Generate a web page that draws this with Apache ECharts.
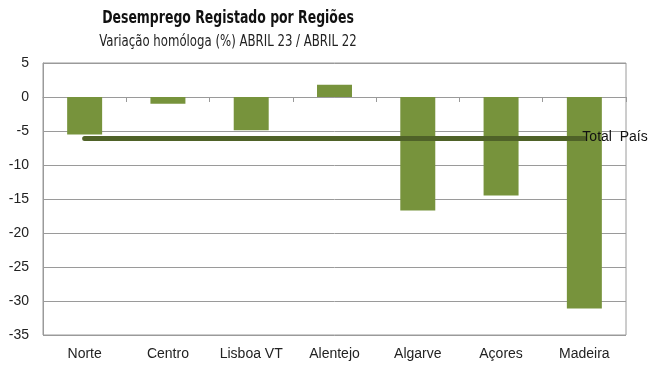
<!DOCTYPE html>
<html><head><meta charset="utf-8">
<script src="https://cdn.jsdelivr.net/npm/echarts@6/dist/echarts.min.js"></script>
<style>html,body{margin:0;padding:0;background:#fff}#c{width:661px;height:373px}</style>
</head><body><div id="c"></div>
<script>
const categories = ['Norte','Centro','Lisboa VT','Alentejo','Algarve','Açores','Madeira'];
const variacao = [-5.5, -1.0, -4.9, 1.8, -16.7, -14.5, -31.1];
const totalPais = [-6.1, -6.1, -6.1, -6.1, -6.1, -6.1, -6.1];
const totalLabel = 'Total  País';
const titleText = 'Desemprego Registado por Regiões';
const subtitleText = 'Variação homóloga (%) ABRIL 23 / ABRIL 22';
const yMin = -35, yMax = 5, yStep = 5;

const chart = echarts.init(document.getElementById('c'));
chart.setOption({
  animation: false,
  backgroundColor: '#fff',
  graphic: [
    {type: 'text', x: 228, y: 18, scaleX: 0.77, z: 10,
     style: {text: titleText, font: 'bold 18px "DejaVu Sans Condensed"', fill: '#111', textAlign: 'center', textVerticalAlign: 'middle'}},
    {type: 'text', x: 228, y: 42, scaleX: 0.87, z: 10,
     style: {text: subtitleText, font: '15px "DejaVu Sans Condensed"', fill: '#222', textAlign: 'center', textVerticalAlign: 'middle'}}
  ],
  grid: {left: 43, right: 35, top: 63, bottom: 38, show: true, borderColor: '#9a9a9a', borderWidth: 1, containLabel: false},
  xAxis: [
    {type: 'category', data: categories, position: 'bottom',
     axisLine: {show: false, onZero: false}, axisTick: {show: false},
     axisLabel: {fontFamily: 'Liberation Sans', fontSize: 14, color: '#222', margin: 12, interval: 0}},
    {type: 'category', data: categories, position: 'bottom',
     axisLine: {show: true, onZero: true, lineStyle: {color: '#9a9a9a', width: 1}},
     axisTick: {show: true, length: 5, lineStyle: {color: '#9a9a9a'}},
     axisLabel: {show: false}}
  ],
  yAxis: {type: 'value', min: yMin, max: yMax, interval: yStep,
    axisLine: {show: true, lineStyle: {color: '#9a9a9a'}}, axisTick: {show: false},
    axisLabel: {fontFamily: 'Liberation Sans', fontSize: 14, color: '#222', margin: 14},
    splitLine: {show: true, lineStyle: {color: '#9a9a9a', width: 1}}},
  series: [
    {type: 'bar', data: variacao, xAxisIndex: 0, barWidth: '42%',
     itemStyle: {color: '#77933c'}, z: 2},
    {type: 'line', data: totalPais, xAxisIndex: 0, symbol: 'none', z: 5,
     lineStyle: {color: '#4f6228', width: 5, cap: 'round'},
     endLabel: {show: true, formatter: totalLabel, fontFamily: 'Liberation Sans', fontSize: 14, color: '#111', offset: [-10, -1]}}
  ]
});
</script></body></html>
